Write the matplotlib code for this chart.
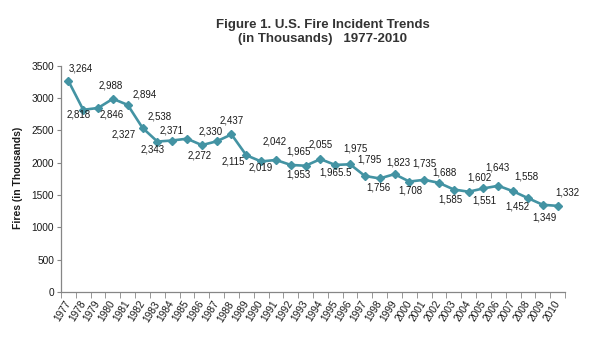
import matplotlib
matplotlib.use("Agg")
import matplotlib.pyplot as plt
import numpy as np

plt.rcParams['font.family'] = ['Liberation Sans', 'DejaVu Sans']

years = list(range(1977, 2011))
fires = [3264, 2818, 2846, 2988, 2894, 2538, 2327, 2343, 2371, 2272,
         2330, 2437, 2115, 2019, 2042, 1965, 1953, 2055, 1965.5, 1975,
         1795, 1756, 1823, 1708, 1735, 1688, 1585, 1551, 1602, 1643,
         1558, 1452, 1349, 1332]
value_labels = ["3,264", "2,818", "2,846", "2,988", "2,894", "2,538", "2,327",
                "2,343", "2,371", "2,272", "2,330", "2,437", "2,115", "2,019",
                "2,042", "1,965", "1,953", "2,055", "1,965.5", "1,975",
                "1,795", "1,756", "1,823", "1,708", "1,735", "1,688", "1,585",
                "1,551", "1,602", "1,643", "1,558", "1,452", "1,349", "1,332"]

# hand-placed label offsets (pixels, +x right, +y down)
label_offsets = [(12, -12), (-5, 5), (14, 7), (-2, -13), (17, -10), (17, -11),
                 (-34, -7), (-20, 9), (-15, -8), (-2, 10), (-6, -10), (0, -14),
                 (-13, 6), (0, 6), (-1, -18), (8, -13), (-7, 9), (0, -15),
                 (0, 8), (5, -16), (5, -16), (-1, 9), (4, -12), (1, 9),
                 (0, -16), (5, -10), (-3, 10), (16, 9), (-4, -11), (-1, -18),
                 (13, -15), (-11, 8), (2, 13), (10, -13)]

line_color = '#4393A3'
axis_color = '#868686'

fig = plt.figure(figsize=(5.99, 3.47), dpi=100)
ax = fig.add_axes([61 / 599, 1 - 292 / 347, (565 - 61) / 599, (292 - 65.7) / 347])

x = np.arange(len(years))
ax.plot(x, fires, color=line_color, lw=1.9, marker='D', ms=4.2,
        markeredgecolor=line_color, markerfacecolor=line_color, zorder=3)

for xi, v, lab, (dx, dy) in zip(x, fires, value_labels, label_offsets):
    ax.annotate(lab, (xi, v), xytext=(dx, -dy), textcoords='offset pixels',
                ha='center', va='center', fontsize=7, color='#1a1a1a')

ax.set_xlim(-0.5, len(years) - 0.5)
ax.set_ylim(0, 3500)
ax.set_yticks(np.arange(0, 3501, 500))
ax.tick_params(axis='y', labelsize=7.3, length=3, color=axis_color, pad=2,
               labelcolor='#1a1a1a')

ax.set_xticks(x)
ax.set_xticklabels([str(y) for y in years], rotation=58, ha='right',
                   va='center', rotation_mode='anchor', fontsize=7.3,
                   color='#1a1a1a')
ax.tick_params(axis='x', length=0, pad=7)
ax.set_xticks(np.arange(-0.5, len(years), 1), minor=True)
ax.tick_params(axis='x', which='minor', length=4, color=axis_color)

for side in ('top', 'right'):
    ax.spines[side].set_visible(False)
for side in ('left', 'bottom'):
    ax.spines[side].set_color(axis_color)
    ax.spines[side].set_linewidth(0.9)

fig.text(18 / 599, 1 - 178 / 347, 'Fires (in Thousands)', rotation=90,
         ha='center', va='center', fontsize=7.5, fontweight='bold',
         color='#1a1a1a')
fig.text(323 / 599, 1 - 32 / 347,
         'Figure 1. U.S. Fire Incident Trends\n(in Thousands)   1977-2010',
         ha='center', va='center', fontsize=9.5, fontweight='bold',
         color='#333333', linespacing=1.3)

fig.savefig('out.png', dpi=100)
